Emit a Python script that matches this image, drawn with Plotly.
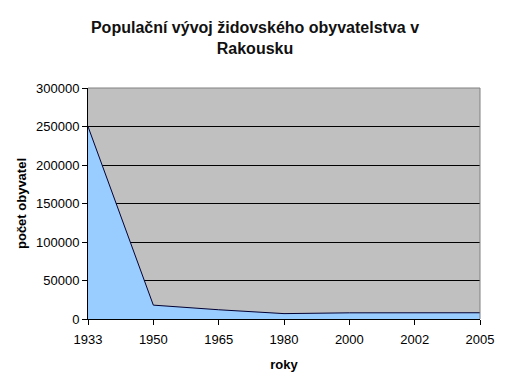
import plotly.graph_objects as go

years = ["1933", "1950", "1965", "1980", "2000", "2002", "2005"]
population = [250000, 18000, 12000, 7000, 8000, 8100, 8100]
y_ticks = [0, 50000, 100000, 150000, 200000, 250000, 300000]
y_tick_labels = [str(v) for v in y_ticks]

fig = go.Figure()
fig.add_trace(go.Scatter(
    x=years, y=population, mode="lines", fill="tozeroy",
    fillcolor="#99CCFF", line=dict(color="#000033", width=1),
    hoverinfo="x+y", showlegend=False,
))

fig.update_layout(
    width=510, height=387,
    margin=dict(l=88, r=30, t=88, b=68),
    paper_bgcolor="white", plot_bgcolor="#C0C0C0",
    font=dict(family="Liberation Sans, Arial, sans-serif", size=13, color="black"),
    title=dict(
        text="<b>Populační vývoj židovského obyvatelstva v<br>Rakousku</b>",
        x=0.5, xanchor="center", y=1 - 33 / 387, yanchor="middle",
        font=dict(size=16, color="#111111"),
    ),
    xaxis=dict(
        type="category", range=[0, 6], showgrid=False,
        ticks="outside", ticklen=5, tickcolor="black",
        showline=True, linecolor="black", linewidth=1,
        title=dict(text="<b>roky</b>", font=dict(size=13), standoff=14),
        tickfont=dict(size=13), ticklabelstandoff=3,
    ),
    yaxis=dict(
        range=[0, 300000], tickvals=y_ticks, ticktext=y_tick_labels,
        showgrid=True, gridcolor="black", gridwidth=1,
        ticks="outside", ticklen=5, tickcolor="black",
        showline=True, linecolor="black", linewidth=1,
        title=dict(text="<b>počet obyvatel</b>", font=dict(size=13), standoff=6),
        tickfont=dict(size=13), zeroline=False,
    ),
)

# gray border on top and right of the plot area
fig.add_shape(type="line", xref="paper", yref="paper", x0=0, x1=1, y0=1, y1=1,
              line=dict(color="#808080", width=1))
fig.add_shape(type="line", xref="paper", yref="paper", x0=1, x1=1, y0=0, y1=1,
              line=dict(color="#808080", width=1))

fig.write_html("out.html")
